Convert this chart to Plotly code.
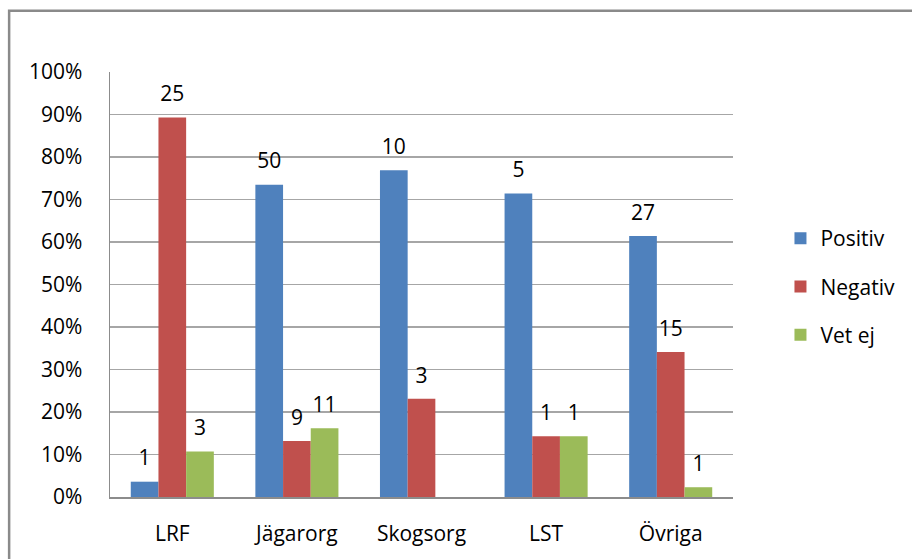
import plotly.graph_objects as go

categories = ["LRF", "Jägarorg", "Skogsorg", "LST", "Övriga"]
series_names = ["Positiv", "Negativ", "Vet ej"]
positiv_pct = [3.6, 73.5, 76.9, 71.4, 61.4]
negativ_pct = [89.3, 13.2, 23.1, 14.3, 34.1]
vetej_pct = [10.7, 16.2, None, 14.3, 2.3]
positiv_n = [1, 50, 10, 5, 27]
negativ_n = [25, 9, 3, 1, 15]
vetej_n = [3, 11, None, 1, 1]
tick_vals = [0, 10, 20, 30, 40, 50, 60, 70, 80, 90, 100]
tick_text = ["0%", "10%", "20%", "30%", "40%", "50%", "60%", "70%", "80%", "90%", "100%"]

colors = ["#4F81BD", "#C0504D", "#9BBB59"]
FONT = "Open Sans"
FS = 21

fig = go.Figure()
for i, (name, vals, col) in enumerate(zip(series_names,
                                          [positiv_pct, negativ_pct, vetej_pct], colors)):
    fig.add_trace(go.Bar(
        x=categories, y=vals, name=name, legendgroup=name,
        offsetgroup=str(i), alignmentgroup="a",
        marker=dict(color=col, line=dict(width=0)),
        hoverinfo="skip",
    ))
for i, (name, vals, counts) in enumerate(zip(series_names,
                                             [positiv_pct, negativ_pct, vetej_pct],
                                             [positiv_n, negativ_n, vetej_n])):
    fig.add_trace(go.Scatter(
        x=categories, y=vals, mode="markers+text",
        text=["" if c is None else str(c) for c in counts],
        textposition="top center",
        marker=dict(size=16, opacity=0),
        textfont=dict(family=FONT, size=FS, color="#000000"),
        offsetgroup=str(i), alignmentgroup="a",
        showlegend=False, hoverinfo="skip", cliponaxis=False,
    ))

L, R, T, B = 110, 172, 72, 57
W, H = 912, 559
pw, ph = W - L - R, H - T - B

fig.update_layout(
    width=W, height=H,
    margin=dict(l=L, r=R, t=T, b=B, pad=0),
    paper_bgcolor="white", plot_bgcolor="white",
    barmode="group", bargap=1/3, bargroupgap=0,
    scattermode="group", scattergap=1/3,
    font=dict(family=FONT, size=FS, color="#000000"),
    showlegend=True,
    legend=dict(x=(788 - L) / pw, y=(H - B - 289) / ph, xanchor="left", yanchor="middle",
                font=dict(family=FONT, size=FS, color="#000000"),
                tracegroupgap=18, bgcolor="rgba(0,0,0,0)", itemwidth=30),
    xaxis=dict(showgrid=False, showline=True, linecolor="#8c8c8c", linewidth=1.5,
               ticks="", ticklabelstandoff=17, tickfont=dict(family=FONT, size=FS)),
    yaxis=dict(range=[0, 100], tickvals=tick_vals, ticktext=tick_text,
               showgrid=True, gridcolor="#a6a6a6", gridwidth=1.5,
               showline=True, linecolor="#8c8c8c", linewidth=1.5,
               zeroline=False, ticks="", ticklabelstandoff=22,
               tickfont=dict(family=FONT, size=FS)),
    shapes=[dict(type="rect", xref="paper", yref="paper",
                 x0=(8 - L) / pw, x1=(930 - L) / pw,
                 y0=(H - B - 580) / ph, y1=(H - B - 10) / ph,
                 line=dict(color="#8a8a8a", width=2.5), fillcolor="rgba(0,0,0,0)",
                 layer="below")],
)

fig.write_html("out.html", config={"displayModeBar": False, "staticPlot": True},
               post_script="document.body.style.margin='0';document.body.style.overflow='hidden';")
